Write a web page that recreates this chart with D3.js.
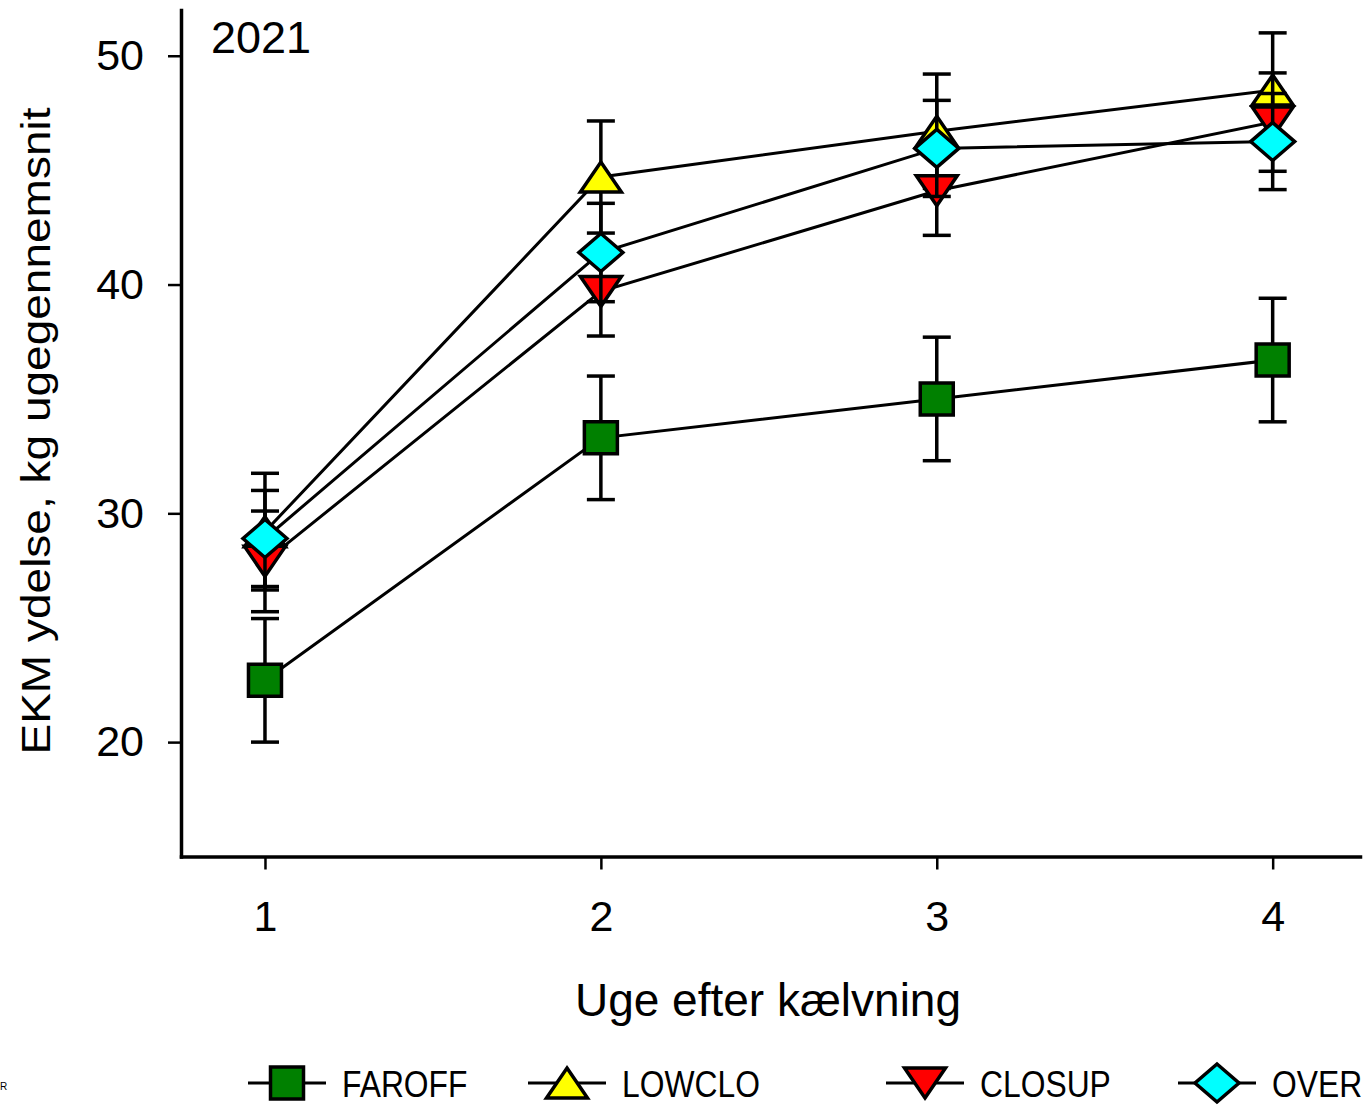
<!DOCTYPE html>
<html>
<head>
<meta charset="utf-8">
<script src="https://cdn.jsdelivr.net/npm/d3@7"></script>
<style>
  body { margin: 0; background: #fff; }
  text { font-family: "Liberation Sans", Arial, sans-serif; fill: #000; }
</style>
</head>
<body>
<svg id="chart"></svg>
<script>
// data (week means, +/- SE)
const weeks = [1, 2, 3, 4];
const faroff = [22.7, 33.3, 35.0, 36.7];
const faroffSE = [2.7, 2.7, 2.7, 2.7];
const lowclo = [29.2, 44.7, 46.7, 48.5];
const lowcloSE = [2.55, 2.45, 2.5, 2.5];
const closup = [27.9, 39.7, 44.1, 47.1];
const closupSE = [2.2, 1.95, 1.95, 2.15];
const over = [28.9, 41.4, 45.95, 46.25];
const overSE = [2.1, 2.15, 2.1, 2.1];
const yTicks = [20, 30, 40, 50];
const xTicks = [1, 2, 3, 4];
const seriesNames = ["FAROFF", "LOWCLO", "CLOSUP", "OVER"];

const width = 1368, height = 1108;

// marker shapes
const shapes = {
  square: "M-16.5,-16V16H16.5V-16Z",
  triUp: "M0,-15L20.5,15H-20.5Z",
  triDown: "M0,15L20.5,-15H-20.5Z",
  diamond: "M0,-19L22,0L0,19L-22,0Z"
};

const series = [
  { name: seriesNames[0], values: faroff, se: faroffSE, fill: "#008000", shape: "square" },
  { name: seriesNames[1], values: lowclo, se: lowcloSE, fill: "#ffff00", shape: "triUp" },
  { name: seriesNames[2], values: closup, se: closupSE, fill: "#ff0000", shape: "triDown" },
  { name: seriesNames[3], values: over, se: overSE, fill: "#00ffff", shape: "diamond" }
];

const svg = d3.select("#chart").attr("width", width).attr("height", height);

let x = d3.scaleLinear().domain([0.75, 4.26]).range([181, 1360]);
let y = d3.scaleLinear().domain([15, 52]).range([856.5, 10]);

// axes
let yAxis = svg.append("g")
  .attr("transform", "translate(181,0)")
  .call(d3.axisLeft(y).tickValues(yTicks).tickSize(13).tickSizeOuter(0).tickPadding(24));
let xAxis = svg.append("g")
  .attr("transform", "translate(0,856.5)")
  .call(d3.axisBottom(x).tickValues(xTicks).tickFormat(d3.format("d"))
    .tickSize(13).tickSizeOuter(0).tickPadding(31));

[yAxis, xAxis].forEach(a => {
  a.select(".domain").attr("stroke-width", 3.5).attr("stroke-linecap", "square");
  a.selectAll(".tick line").attr("stroke-width", 2.5);
  a.selectAll(".tick text").style("font-size", "43px");
});

// plot series: error bars, line, markers
const line = d3.line().x(d => x(d.week)).y(d => y(d.value));

series.forEach(s => {
  let pts = weeks.map((w, i) => ({ week: w, value: s.values[i], se: s.se[i] }));
  let g = svg.append("g");

  let eb = g.selectAll("g.eb").data(pts).join("g").attr("class", "eb")
    .attr("stroke", "#000").attr("stroke-width", 3.5);
  eb.append("line")
    .attr("x1", d => x(d.week)).attr("x2", d => x(d.week))
    .attr("y1", d => y(d.value + d.se)).attr("y2", d => y(d.value - d.se));
  eb.append("line")
    .attr("x1", d => x(d.week) - 14).attr("x2", d => x(d.week) + 14)
    .attr("y1", d => y(d.value + d.se)).attr("y2", d => y(d.value + d.se));
  eb.append("line")
    .attr("x1", d => x(d.week) - 14).attr("x2", d => x(d.week) + 14)
    .attr("y1", d => y(d.value - d.se)).attr("y2", d => y(d.value - d.se));

  g.append("path").datum(pts)
    .attr("d", line)
    .attr("fill", "none")
    .attr("stroke", "#000")
    .attr("stroke-width", 3);

  g.selectAll("path.mark").data(pts).join("path").attr("class", "mark")
    .attr("d", shapes[s.shape])
    .attr("transform", d => `translate(${x(d.week)},${y(d.value)})`)
    .attr("fill", s.fill)
    .attr("stroke", "#000")
    .attr("stroke-width", 3.5)
    .attr("stroke-linejoin", "miter");
});

// titles
svg.append("text")
  .attr("x", 211).attr("y", 53)
  .style("font-size", "45px")
  .text("2021");

svg.append("text")
  .attr("x", 768).attr("y", 1016)
  .attr("text-anchor", "middle")
  .style("font-size", "46px")
  .text("Uge efter kælvning");

svg.append("text")
  .attr("transform", "translate(50,431) rotate(-90)")
  .attr("text-anchor", "middle")
  .style("font-size", "40px")
  .attr("textLength", 647)
  .attr("lengthAdjust", "spacingAndGlyphs")
  .text("EKM ydelse, kg ugegennemsnit");

// legend
const legendX = [248, 528, 886, 1178];
const legendY = 1083;
let lg = svg.append("g").selectAll("g").data(series).join("g")
  .attr("transform", (d, i) => `translate(${legendX[i]},${legendY})`);
lg.append("line")
  .attr("x1", 0).attr("x2", 78)
  .attr("stroke", "#000").attr("stroke-width", 3);
lg.append("path")
  .attr("d", d => shapes[d.shape])
  .attr("transform", "translate(39,0)")
  .attr("fill", d => d.fill)
  .attr("stroke", "#000")
  .attr("stroke-width", 3.5);
// legend labels are drawn narrow, as in the source figure
lg.append("text")
  .attr("transform", "translate(94,14) scale(0.86,1)")
  .style("font-size", "37px")
  .text(d => d.name);

// stray clipped letter at the bottom-left edge
svg.append("text")
  .attr("x", 0).attr("y", 1090)
  .style("font-size", "10px")
  .text("R");
</script>
</body>
</html>
